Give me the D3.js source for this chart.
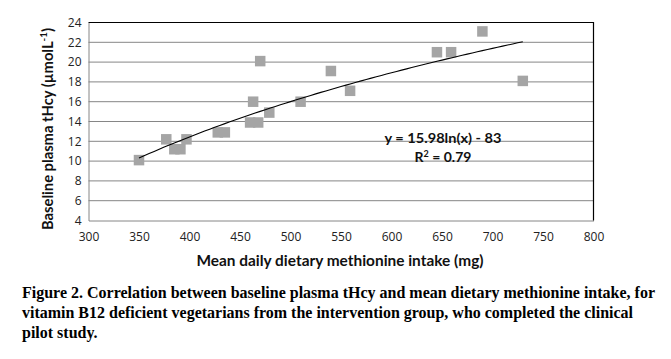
<!DOCTYPE html>
<html><head><meta charset="utf-8">
<script src="https://cdn.jsdelivr.net/npm/d3@7"></script>
<style>
html,body{margin:0;padding:0;background:#fff;}
svg{display:block;}
</style></head>
<body>
<svg id="chart" width="671" height="359"></svg>
<script>
// Data
const intake = [350, 377, 385, 391, 397, 428, 435, 460, 463, 468, 470, 479, 510, 540, 559, 645, 659, 690, 730];
const tHcy   = [10.1, 12.2, 11.2, 11.2, 12.2, 12.9, 12.9, 13.9, 16.0, 13.9, 20.1, 14.9, 16.0, 19.1, 17.1, 21.0, 21.0, 23.1, 18.1];
const xTicks = [300, 350, 400, 450, 500, 550, 600, 650, 700, 750, 800];
const yTicks = [4, 6, 8, 10, 12, 14, 16, 18, 20, 22, 24];
const trendCoef = [15.98, -83.3]; // y = a ln(x) + b
const trendRange = [350, 730];
const eqLabel = "y = 15.98ln(x) - 83";
const xTitle = "Mean daily dietary methionine intake (mg)";
const captionLines = [
  "Figure 2. Correlation between baseline plasma tHcy and mean dietary methionine intake, for",
  "vitamin B12 deficient vegetarians from the intervention group, who completed the clinical",
  "pilot study."
];

const svg = d3.select("#chart");
const L = 88.5, R = 593.5, T = 22.5, B = 220.5;
const x = d3.scaleLinear().domain([300, 800]).range([L, R]);
const y = d3.scaleLinear().domain([4, 24]).range([B, T]);
const sans = "'Open Sans', 'DejaVu Sans', sans-serif";

// gridlines
svg.append("g").selectAll("line").data(yTicks.slice(1, -1)).join("line")
  .attr("x1", L).attr("x2", R).attr("y1", d => y(d)).attr("y2", d => y(d))
  .attr("stroke", "#868686").attr("stroke-width", 1);

// axes (lines only via d3 axes, labels styled)
const xAxis = svg.append("g").attr("transform", `translate(0,${B})`)
  .call(d3.axisBottom(x).tickValues(xTicks).tickSize(0).tickPadding(12));
const yAxis = svg.append("g").attr("transform", `translate(${L},0)`)
  .call(d3.axisLeft(y).tickValues(yTicks).tickSize(0).tickPadding(7));
[xAxis, yAxis].forEach(g => {
  g.select(".domain").attr("stroke", "#868686");
  g.selectAll("text").attr("font-family", sans).attr("font-size", 12).attr("fill", "#222");
});
// top/right black border
svg.append("path").attr("d", `M${L},${T}H${R}V${B}`).attr("fill", "none").attr("stroke", "#000").attr("stroke-width", 1.2);

// points
const pts = intake.map((v, i) => [v, tHcy[i]]);
const s = 10.5;
svg.append("g").selectAll("rect").data(pts).join("rect")
  .attr("x", d => x(d[0]) - s / 2).attr("y", d => y(d[1]) - s / 2)
  .attr("width", s).attr("height", s).attr("fill", "#a5a5a5");

// trendline
const tx = d3.range(trendRange[0], trendRange[1] + 0.1, 5);
svg.append("path").datum(tx)
  .attr("d", d3.line().x(d => x(d)).y(d => y(trendCoef[0] * Math.log(d) + trendCoef[1])))
  .attr("fill", "none").attr("stroke", "#000").attr("stroke-width", 1.1);

// equation
const eq = svg.append("g").attr("font-family", "Lato, 'Open Sans', sans-serif").attr("font-weight", "bold").attr("font-size", 14).attr("text-anchor", "middle").attr("fill", "#111");
eq.append("text").attr("x", 443).attr("y", 143).attr("textLength", 117).attr("lengthAdjust", "spacingAndGlyphs").text(eqLabel);
const r2 = eq.append("text").attr("x", 443).attr("y", 162);
r2.append("tspan").text("R");
r2.append("tspan").attr("font-size", 9).attr("dy", -5).text("2");
r2.append("tspan").attr("dy", 5).text(" = 0.79");

// axis titles
svg.append("text").attr("x", 340).attr("y", 266).attr("text-anchor", "middle")
  .attr("font-family", "Lato, 'Open Sans', sans-serif").attr("font-weight", "bold").attr("font-size", 15)
  .attr("textLength", 287).attr("lengthAdjust", "spacingAndGlyphs").attr("fill", "#111").text(xTitle);

const yt = svg.append("text").attr("transform", "translate(53,129) rotate(-90)").attr("text-anchor", "middle")
  .attr("font-family", "Lato, 'Open Sans', sans-serif").attr("font-weight", "bold").attr("font-size", 15).attr("fill", "#111")
  .attr("textLength", 202).attr("lengthAdjust", "spacingAndGlyphs");
yt.append("tspan").text("Baseline plasma tHcy (µmolL");
yt.append("tspan").attr("font-size", 10).attr("dy", -6).text("-1");
yt.append("tspan").attr("dy", 6).text(")");

// caption
const capW = [633, 611, null];
captionLines.forEach((t, i) => {
  const tx2 = svg.append("text").attr("x", 22).attr("y", 298 + i * 20)
    .attr("font-family", "'Liberation Serif', 'Times New Roman', serif").attr("font-weight", "bold")
    .attr("font-size", 16).attr("fill", "#000").text(t);
  if (capW[i]) tx2.attr("textLength", capW[i]).attr("lengthAdjust", "spacingAndGlyphs");
});
</script>
</body></html>
